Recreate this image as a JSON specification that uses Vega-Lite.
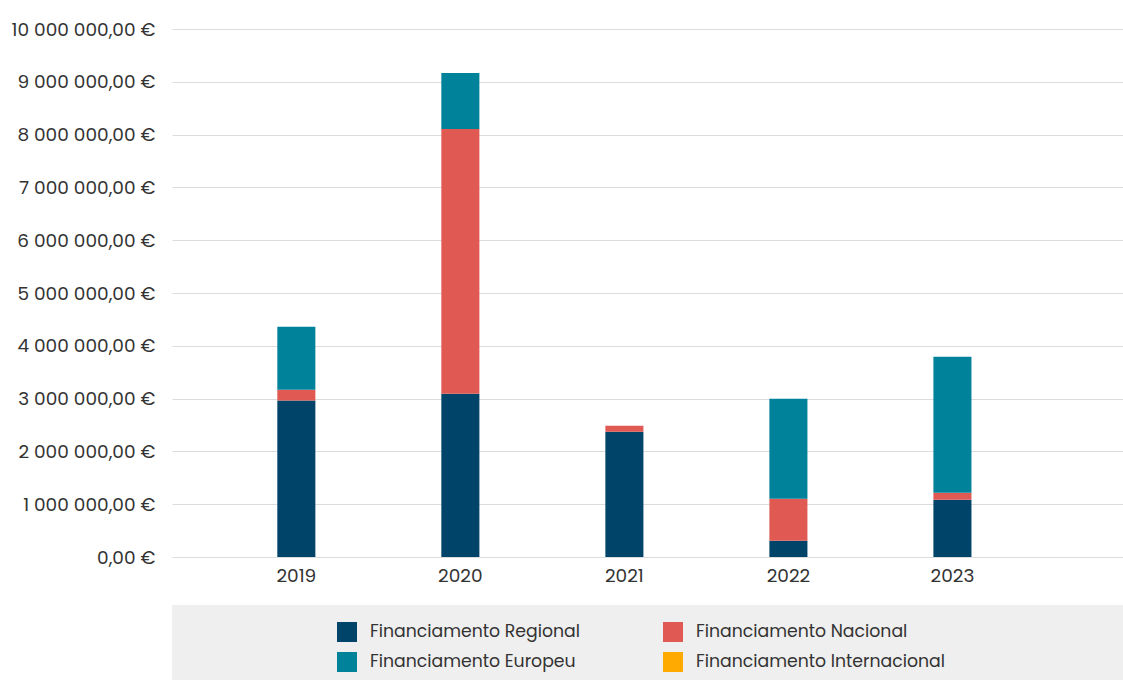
{
  "$schema": "https://vega.github.io/schema/vega-lite/v6.json",
  "background": "white",
  "padding": {"left": 11, "top": 20, "right": 0, "bottom": 0},
  "config": {
    "font": "Poppins, Open Sans",
    "view": {"stroke": null},
    "concat": {"spacing": 20},
    "locale": {"number": {"decimal": ",", "thousands": " ", "grouping": [3], "currency": ["", " €"]}}
  },
  "datasets": {
    "funding": [
      {"ano": "2019", "fonte": "Financiamento Regional", "ordem": 1, "valor": 2964000},
      {"ano": "2019", "fonte": "Financiamento Nacional", "ordem": 2, "valor": 203000},
      {"ano": "2019", "fonte": "Financiamento Europeu", "ordem": 3, "valor": 1192000},
      {"ano": "2020", "fonte": "Financiamento Regional", "ordem": 1, "valor": 3093000},
      {"ano": "2020", "fonte": "Financiamento Nacional", "ordem": 2, "valor": 5014000},
      {"ano": "2020", "fonte": "Financiamento Europeu", "ordem": 3, "valor": 1060000},
      {"ano": "2021", "fonte": "Financiamento Regional", "ordem": 1, "valor": 2372000},
      {"ano": "2021", "fonte": "Financiamento Nacional", "ordem": 2, "valor": 113000},
      {"ano": "2022", "fonte": "Financiamento Regional", "ordem": 1, "valor": 309000},
      {"ano": "2022", "fonte": "Financiamento Nacional", "ordem": 2, "valor": 795000},
      {"ano": "2022", "fonte": "Financiamento Europeu", "ordem": 3, "valor": 1892000},
      {"ano": "2023", "fonte": "Financiamento Regional", "ordem": 1, "valor": 1085000},
      {"ano": "2023", "fonte": "Financiamento Nacional", "ordem": 2, "valor": 133000},
      {"ano": "2023", "fonte": "Financiamento Europeu", "ordem": 3, "valor": 2573000}
    ],
    "legenda": [
      {"fonte": "Financiamento Regional", "col": 0, "lin": 0},
      {"fonte": "Financiamento Nacional", "col": 1, "lin": 0},
      {"fonte": "Financiamento Europeu", "col": 0, "lin": 1},
      {"fonte": "Financiamento Internacional", "col": 1, "lin": 1}
    ]
  },
  "vconcat": [
    {
      "width": 951,
      "height": 528,
      "data": {"name": "funding"},
      "mark": {"type": "bar"},
      "encoding": {
        "x": {
          "field": "ano",
          "type": "nominal",
          "scale": {"paddingInner": 0.768, "paddingOuter": 0.783, "align": 0.41},
          "axis": {"title": null, "labelAngle": 0, "ticks": false, "domain": false, "labelFontSize": 18.5, "labelColor": "#333333", "labelPadding": 9, "labelFontWeight": "normal"}
        },
        "y": {
          "field": "valor",
          "type": "quantitative",
          "stack": "zero",
          "scale": {"domain": [0, 10000000]},
          "axis": {
            "title": null,
            "values": [0, 1000000, 2000000, 3000000, 4000000, 5000000, 6000000, 7000000, 8000000, 9000000, 10000000],
            "format": ",.2f",
            "labelExpr": "datum.label + ' €'",
            "gridColor": "#dcdcdc",
            "gridWidth": 1,
            "domain": false,
            "ticks": false,
            "labelPadding": 17,
            "labelFontSize": 18.5,
            "labelColor": "#333333"
          }
        },
        "color": {
          "field": "fonte",
          "type": "nominal",
          "scale": {
            "domain": ["Financiamento Regional", "Financiamento Nacional", "Financiamento Europeu", "Financiamento Internacional"],
            "range": ["#00446a", "#e05a53", "#00829a", "#ffaa00"]
          },
          "legend": null
        },
        "order": {"field": "ordem", "type": "quantitative"}
      }
    },
    {
      "width": 951,
      "height": 80,
      "view": {"fill": "#efefef", "stroke": null},
      "data": {"name": "legenda"},
      "encoding": {
        "x": {"field": "col", "type": "quantitative", "scale": {"domain": [0, 1], "range": [175, 501]}, "axis": null},
        "y": {"field": "lin", "type": "quantitative", "scale": {"domain": [0, 1], "range": [27, 57]}, "axis": null}
      },
      "layer": [
        {
          "mark": {"type": "point", "shape": "square", "filled": true, "size": 400, "opacity": 1, "strokeWidth": 0},
          "encoding": {
            "color": {
              "field": "fonte",
              "type": "nominal",
              "scale": {
                "domain": ["Financiamento Regional", "Financiamento Nacional", "Financiamento Europeu", "Financiamento Internacional"],
                "range": ["#00446a", "#e05a53", "#00829a", "#ffaa00"]
              },
              "legend": null
            }
          }
        },
        {
          "mark": {"type": "text", "align": "left", "baseline": "middle", "dx": 23, "fontSize": 17.3, "color": "#333333"},
          "encoding": {"text": {"field": "fonte", "type": "nominal"}}
        }
      ]
    }
  ]
}
